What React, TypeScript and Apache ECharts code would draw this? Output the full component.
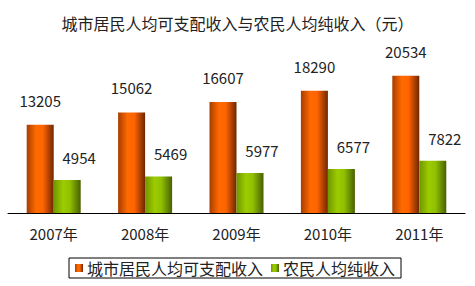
import React, { useEffect, useRef } from "react";
import * as echarts from "echarts";

const categories = ["2007年", "2008年", "2009年", "2010年", "2011年"];
const urbanIncome = [13205, 15062, 16607, 18290, 20534];
const ruralIncome = [4954, 5469, 5977, 6577, 7822];
const seriesNames = ["城市居民人均可支配收入", "农民人均纯收入"];
const titleText = "城市居民人均可支配收入与农民人均纯收入（元）";

const FONT = "'Noto Sans CJK SC', 'DejaVu Sans', sans-serif";

export default function App() {
  const ref = useRef<HTMLDivElement>(null);
  useEffect(() => {
    if (!ref.current) return;
    const chart = echarts.init(ref.current, null, { renderer: "svg" });
    const orange = new echarts.graphic.LinearGradient(0, 0, 1, 0, [
      { offset: 0, color: "#a83c00" },
      { offset: 0.35, color: "#ff6a00" },
      { offset: 0.6, color: "#ff6400" },
      { offset: 1, color: "#6e2600" },
    ]);
    const green = new echarts.graphic.LinearGradient(0, 0, 1, 0, [
      { offset: 0, color: "#6f9600" },
      { offset: 0.35, color: "#9ccc00" },
      { offset: 0.6, color: "#90c000" },
      { offset: 1, color: "#486000" },
    ]);
    chart.setOption({
      animation: false,
      backgroundColor: "#ffffff",
      textStyle: { fontFamily: FONT },
      title: {
        text: titleText,
        left: "center",
        top: 10,
        textStyle: { fontSize: 16, fontWeight: "normal", color: "#222", fontFamily: FONT },
      },
      legend: {
        left: 69,
        top: 258,
        itemWidth: 8,
        itemHeight: 8,
        itemGap: 8,
        borderColor: "#000",
        borderWidth: 1,
        borderRadius: 0,
        padding: [2, 6, 2, 6],
        icon: "rect",
        textStyle: { fontSize: 16, color: "#222", fontFamily: FONT, padding: [0, 0, 0, -1] },
        data: seriesNames,
      },
      grid: { left: 8, right: 10, top: 46, bottom: 73, containLabel: false },
      xAxis: {
        type: "category",
        data: categories,
        axisLine: { lineStyle: { color: "#000", width: 1 } },
        axisTick: { inside: true, length: 4, lineStyle: { color: "#000" } },
        axisLabel: { fontSize: 15, color: "#222", margin: 13, fontFamily: FONT },
      },
      yAxis: {
        type: "value",
        min: 0,
        max: 25000,
        show: false,
        splitLine: { show: false },
      },
      series: [
        {
          name: seriesNames[0],
          type: "bar",
          data: urbanIncome,
          barWidth: 27,
          barGap: "0%",
          itemStyle: { color: orange },
          label: {
            show: true,
            position: "top",
            distance: 17,
            fontSize: 15,
            color: "#222",
            fontFamily: FONT,
          },
        },
        {
          name: seriesNames[1],
          type: "bar",
          data: ruralIncome,
          barWidth: 27,
          barGap: "0%",
          itemStyle: { color: green },
          label: {
            show: true,
            position: "top",
            distance: 15,
            offset: [12, 0],
            fontSize: 15,
            color: "#222",
            fontFamily: FONT,
          },
        },
      ],
    });
    return () => chart.dispose();
  }, []);
  return (
    <div style={{ position: "fixed", left: 0, top: 0, width: 475, height: 286, background: "#fff" }}>
      <div ref={ref} style={{ width: 475, height: 286 }} />
    </div>
  );
}
